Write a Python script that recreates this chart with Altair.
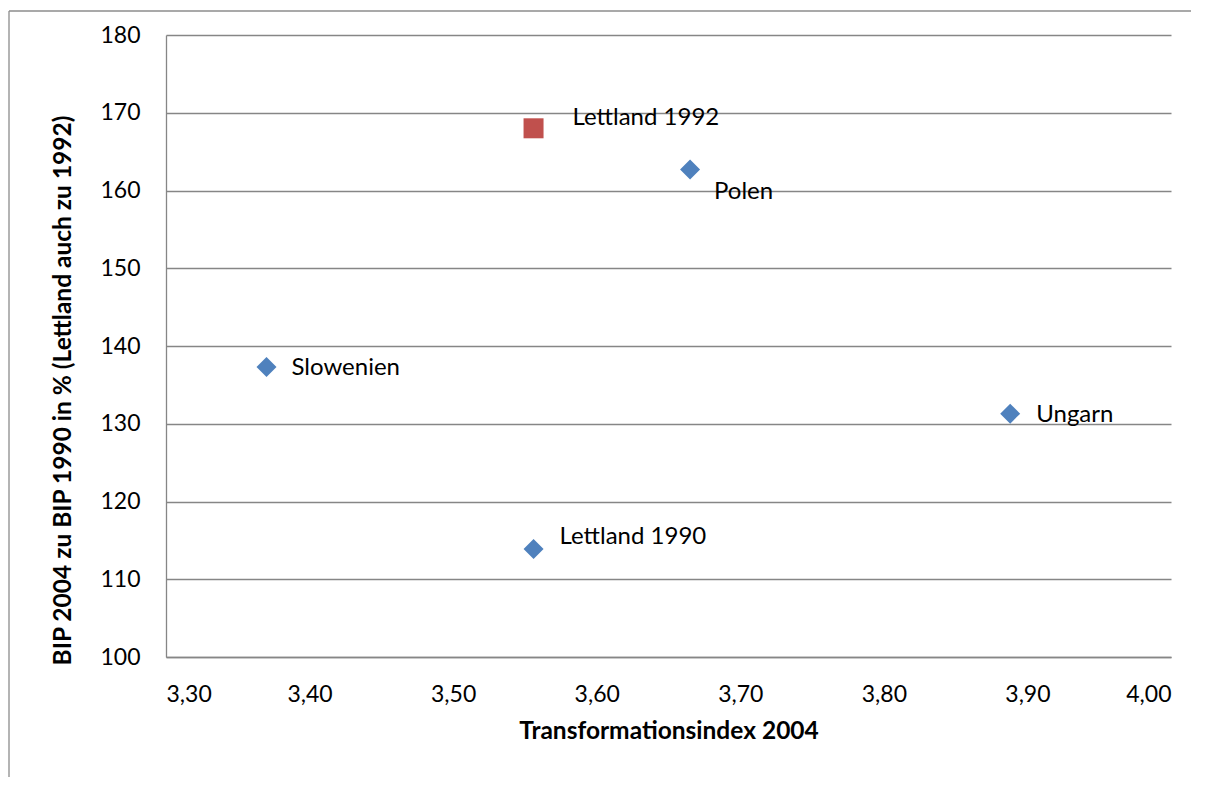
import altair as alt
import pandas as pd

# Data
countries = ["Lettland 1992", "Polen", "Slowenien", "Ungarn", "Lettland 1990"]
transformationsindex = [3.556, 3.665, 3.370, 3.888, 3.556]
bip_index = [168.0, 162.7, 137.3, 131.3, 113.9]
series = ["1992", "base", "base", "base", "base"]

x_ticks = [3.30, 3.40, 3.50, 3.60, 3.70, 3.80, 3.90, 4.00]
y_ticks = [100, 110, 120, 130, 140, 150, 160, 170, 180]

df = pd.DataFrame({
    "land": countries,
    "ti": transformationsindex,
    "bip": bip_index,
    "serie": series,
})

FONT = "Lato"
FS = 23
TFS = 24.5
LFS = 24
GRID = "#868686"

common_axis = dict(
    labelFont=FONT,
    labelFontSize=FS,
    labelColor="#000000",
    titleFont=FONT,
    titleFontSize=TFS,
    titleFontWeight="bold",
    titleColor="#000000",
    ticks=False,
    tickSize=0,
    labelPadding=26,
    domainColor=GRID,
    domainWidth=1.3,
)

x_enc = alt.X(
    "ti:Q",
    scale=alt.Scale(domain=[3.30, 4.00], nice=False, zero=False),
    axis=alt.Axis(
        title="Transformationsindex 2004",
        values=x_ticks,
        labelExpr="replace(format(datum.value, '.2f'), '.', ',')",
        grid=False,
        titlePadding=13,
        **common_axis,
    ),
)
y_enc = alt.Y(
    "bip:Q",
    scale=alt.Scale(domain=[100, 180], nice=False, zero=False),
    axis=alt.Axis(
        title="BIP 2004 zu BIP 1990 in % (Lettland auch zu 1992)",
        values=y_ticks,
        format="d",
        grid=True,
        gridColor=GRID,
        gridWidth=1.3,
        titlePadding=24,
        titleY=355,
        **common_axis,
    ),
)

base = alt.Chart(df)

points = base.mark_point(filled=True, opacity=1, strokeWidth=0).encode(
    x=x_enc,
    y=y_enc,
    shape=alt.Shape(
        "serie:N",
        scale=alt.Scale(domain=["base", "1992"], range=["diamond", "square"]),
        legend=None,
    ),
    color=alt.Color(
        "serie:N",
        scale=alt.Scale(domain=["base", "1992"], range=["#4F81BD", "#C0504D"]),
        legend=None,
    ),
    size=alt.value(400),
)

offsets = {
    "Lettland 1992": (39, -10),
    "Polen": (24, 22),
    "Slowenien": (25, 1),
    "Ungarn": (26, 1),
    "Lettland 1990": (26, -12),
}

labels = []
for name in countries:
    dx, dy = offsets[name]
    labels.append(
        base.transform_filter(alt.datum.land == name)
        .mark_text(align="left", baseline="middle", dx=dx, dy=dy,
                   font=FONT, fontSize=LFS, color="#000000")
        .encode(x="ti:Q", y="bip:Q", text="land:N")
    )

border_v = alt.Chart(pd.DataFrame({"k": [0]})).mark_rule(
    color="#8c8c8c", strokeWidth=1.3
).encode(x=alt.value(-157), y=alt.value(-24), y2=alt.value(750))
border_h = alt.Chart(pd.DataFrame({"k": [0]})).mark_rule(
    color="#8c8c8c", strokeWidth=1.3
).encode(x=alt.value(-157), x2=alt.value(1025), y=alt.value(-24))

chart = alt.layer(border_v, border_h, points, *labels).properties(
    width=1005,
    height=622,
    autosize=alt.AutoSizeParams(type="none"),
    padding={"left": 158, "top": 27, "right": 20, "bottom": 120},
).configure_view(
    stroke=None
)

chart.save("out.html", embed_options={"renderer": "svg", "actions": False})
